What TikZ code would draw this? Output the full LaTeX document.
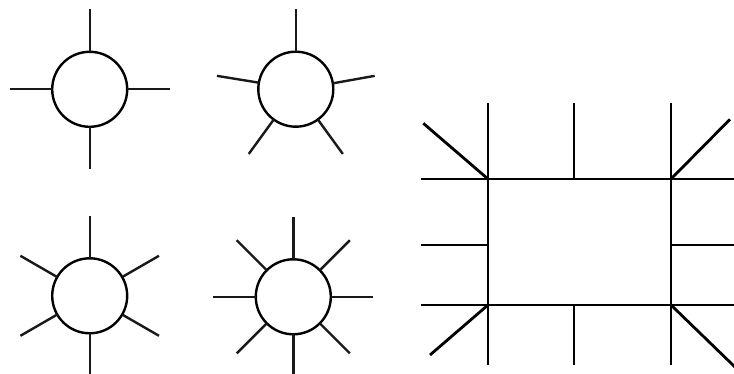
\documentclass[tikz,border=0pt]{standalone}
\usetikzlibrary{calc}
\begin{document}
\begin{tikzpicture}[x=1pt,y=1pt,
  ring/.style={draw=black, circle, line width=2.4pt, inner sep=0pt, outer sep=0pt, minimum size=75pt},
  tick/.style={line width=2.4pt, draw=black!90},
  rline/.style={line width=2.8pt, draw=black}]
\useasboundingbox (0,0) rectangle (734,374);
% circle 1: four ticks
\node[ring] (c1) at (89.7,284.7) {};
\foreach \a in {0,90,180,270} \draw[tick] (c1.\a) -- ($(c1.center)+(\a:80)$);
% circle 2: five ticks
\node[ring] (c2) at (295.8,284.8) {};
\foreach \a in {90,9.6,170.4,234,306} \draw[tick] (c2.\a) -- ($(c2.center)+(\a:80)$);
% circle 3: six ticks
\node[ring] (c3) at (89.7,78.2) {};
\foreach \a in {30,90,150,210,270,330} \draw[tick] (c3.\a) -- ($(c3.center)+(\a:80)$);
% circle 4: eight ticks
\node[ring] (c4) at (293.3,77.2) {};
\foreach \a in {0,45,...,315} \draw[tick] (c4.\a) -- ($(c4.center)+(\a:80)$);
% rectangle
\node[rline, rectangle, inner sep=0pt, outer sep=0pt, minimum width=183pt, minimum height=126pt] (r) at (579.5,132) {};
% attachment points and free ends
\coordinate (tm) at ($(r.north)+(-5.5,0)$);
\coordinate (bm) at ($(r.south)+(-5.5,0)$);
\coordinate (lm) at ($(r.west)+(0,-3)$);
\coordinate (rm) at ($(r.east)+(0,-3)$);
\coordinate (tl) at (423.3,250.7);
\coordinate (tr) at (730,254.7);
\coordinate (bl) at (430,19);
\coordinate (br) at (736,6);
\draw[rline] (r.north west) -- ++(0,76);
\draw[rline] (r.north east) -- ++(0,76);
\draw[rline] (tm) -- ++(0,76);
\draw[rline] (r.south west) -- ++(0,-60);
\draw[rline] (r.south east) -- ++(0,-60);
\draw[rline] (bm) -- ++(0,-60);
\draw[rline] (r.north west) -- ++(-67,0);
\draw[rline] (lm) -- ++(-67,0);
\draw[rline] (r.south west) -- ++(-67,0);
\draw[rline] (r.north east) -- ++(65,0);
\draw[rline] (rm) -- ++(65,0);
\draw[rline] (r.south east) -- ++(65,0);
\draw[rline] (r.north west) -- (tl);
\draw[rline] (r.north east) -- (tr);
\draw[rline] (r.south west) -- (bl);
\draw[rline] (r.south east) -- (br);
\end{tikzpicture}
\end{document}
